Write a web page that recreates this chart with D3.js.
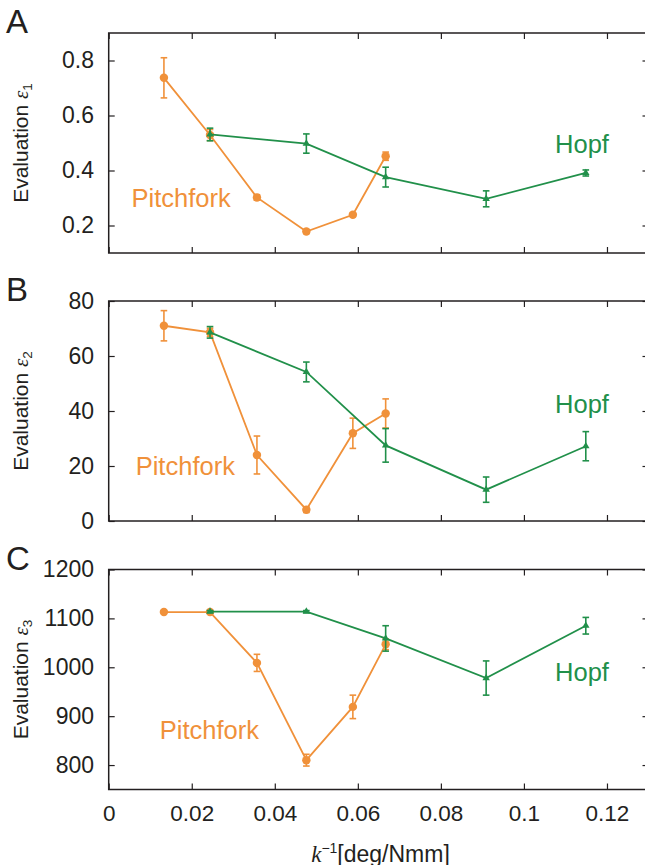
<!DOCTYPE html>
<html lang="en">
<head>
<meta charset="UTF-8">
<title>Evaluation vs k^-1</title>
<script src="https://cdn.jsdelivr.net/npm/d3@7/dist/d3.min.js"></script>
<style>
  body { margin: 0; background: #fff; font-family: "Liberation Sans", Arial, sans-serif; }
  svg { display: block; }
  .frame { fill: none; stroke: #231f20; stroke-width: 1.5; }
  .tick line { stroke: #231f20; stroke-width: 1.2; }
  .tick text { fill: #231f20; font-size: 22.5px; font-family: "Liberation Sans", Arial, sans-serif; }
  .yaxis .tick text { font-size: 23px; }
  .domain { display: none; }
  .letter { font-size: 33px; fill: #231f20; }
  .ytitle, .xtitle { fill: #231f20; }
</style>
</head>
<body>
<svg id="chart" width="645" height="865"></svg>
<script>
// k^-1 [deg/Nmm] for each stiffness
const pitchX = [0.0133, 0.0244, 0.0357, 0.0476, 0.0588, 0.0667];
const hopfX  = [0.0244, 0.0476, 0.0667, 0.0909, 0.1149];

// evaluation e1
const pitchE1    = [0.737, 0.529, 0.302, 0.178, 0.239, 0.452];
const pitchE1Err = [0.073, 0.020, 0.010, 0.007, 0.006, 0.015];
const hopfE1     = [0.531, 0.498, 0.376, 0.297, 0.391];
const hopfE1Err  = [0.023, 0.035, 0.036, 0.029, 0.011];

// evaluation e2
const pitchE2    = [71.0, 68.6, 24.0, 4.1, 31.9, 39.1];
const pitchE2Err = [5.5, 1.5, 6.9, 1.0, 5.5, 5.3];
const hopfE2     = [68.6, 54.2, 27.5, 11.4, 27.2];
const hopfE2Err  = [2.1, 3.6, 6.1, 4.6, 5.3];

// evaluation e3
const pitchE3    = [1113, 1113, 1009, 810, 919, 1047];
const pitchE3Err = [0, 0, 17.5, 12, 24, 11];
const hopfE3     = [1114, 1114, 1059, 978, 1085];
const hopfE3Err  = [2, 2, 26, 35, 17];

// axis ticks
const xTicks = [0, 0.02, 0.04, 0.06, 0.08, 0.1, 0.12];
const e1Ticks = [0.2, 0.4, 0.6, 0.8];
const e2Ticks = [0, 20, 40, 60, 80];
const e3Ticks = [800, 900, 1000, 1100, 1200];

const orange = "#f0913a", green = "#21904a";

const panels = [
  { letter: "A", sub: "1", domain: [0.1, 0.9], ticks: e1Ticks, fmt: d3.format(".1f"),
    pitch: pitchE1, pitchErr: pitchE1Err, hopf: hopfE1, hopfErr: hopfE1Err,
    pitchLabel: [0.0055, 0.268], hopfLabel: [0.1075, 0.465] },
  { letter: "B", sub: "2", domain: [0, 80], ticks: e2Ticks, fmt: d3.format("d"),
    pitch: pitchE2, pitchErr: pitchE2Err, hopf: hopfE2, hopfErr: hopfE2Err,
    pitchLabel: [0.0065, 16.7], hopfLabel: [0.1075, 39.4] },
  { letter: "C", sub: "3", domain: [750, 1200], ticks: e3Ticks, fmt: d3.format("d"),
    pitch: pitchE3, pitchErr: pitchE3Err, hopf: hopfE3, hopfErr: hopfE3Err,
    pitchLabel: [0.0123, 852.7], hopfLabel: [0.1075, 972.6] }
];

const left = 108.7, right = 648.5, panelH = 220;
const tops = [33, 301, 569.5];

const svg = d3.select("#chart");
const x = d3.scaleLinear().domain([0, 0.13]).range([left, right]);
const xFmt = d => d === 0 ? "0" : String(+d.toFixed(2));

function drawSeries(g, y, xs, ys, es, color, symbol, size) {
    const pts = xs.map((v, j) => ({ x: v, y: ys[j], e: es[j] }));

    g.append("path")
        .datum(pts)
        .attr("fill", "none")
        .attr("stroke", color)
        .attr("stroke-width", 1.8)
        .attr("d", d3.line().x(d => x(d.x)).y(d => y(d.y)));

    // error bars with small caps
    const eb = g.append("g")
        .attr("stroke", color)
        .attr("stroke-width", 1.6)
        .selectAll("g")
        .data(pts.filter(d => d.e > 0))
        .join("g");
    eb.append("line")
        .attr("x1", d => x(d.x)).attr("x2", d => x(d.x))
        .attr("y1", d => y(d.y - d.e)).attr("y2", d => y(d.y + d.e));
    eb.append("line")
        .attr("x1", d => x(d.x) - 3.3).attr("x2", d => x(d.x) + 3.3)
        .attr("y1", d => y(d.y + d.e)).attr("y2", d => y(d.y + d.e));
    eb.append("line")
        .attr("x1", d => x(d.x) - 3.3).attr("x2", d => x(d.x) + 3.3)
        .attr("y1", d => y(d.y - d.e)).attr("y2", d => y(d.y - d.e));

    g.append("g")
        .selectAll("path")
        .data(pts)
        .join("path")
        .attr("d", d3.symbol(symbol, size))
        .attr("transform", d => `translate(${x(d.x)},${y(d.y)})`)
        .attr("fill", color);
}

panels.forEach((p, i) => {
    const top = tops[i], bottom = top + panelH;
    const y = d3.scaleLinear().domain(p.domain).range([bottom, top]);
    const g = svg.append("g");

    // inward ticks on all four sides
    g.append("g")
        .attr("class", "yaxis")
        .attr("transform", `translate(${left},0)`)
        .call(d3.axisLeft(y).tickValues(p.ticks).tickFormat(p.fmt)
            .tickSizeInner(-6).tickSizeOuter(0).tickPadding(14.7));
    g.append("g")
        .attr("transform", `translate(${right},0)`)
        .call(d3.axisRight(y).tickValues(p.ticks).tickFormat(() => "")
            .tickSizeInner(-6).tickSizeOuter(0));
    g.append("g")
        .attr("transform", `translate(0,${top})`)
        .call(d3.axisTop(x).tickValues(xTicks).tickFormat(() => "")
            .tickSizeInner(-6).tickSizeOuter(0));
    g.append("g")
        .attr("transform", `translate(0,${bottom})`)
        .call(d3.axisBottom(x).tickValues(xTicks).tickFormat(i === 2 ? xFmt : () => "")
            .tickSizeInner(-6).tickSizeOuter(0).tickPadding(15.5));

    g.append("rect")
        .attr("class", "frame")
        .attr("x", left).attr("y", top)
        .attr("width", right - left).attr("height", panelH);

    drawSeries(g, y, pitchX, p.pitch, p.pitchErr, orange, d3.symbolCircle, 56);
    drawSeries(g, y, hopfX, p.hopf, p.hopfErr, green, d3.symbolTriangle, 24);

    // series names
    g.append("text")
        .attr("x", x(p.pitchLabel[0])).attr("y", y(p.pitchLabel[1]))
        .attr("fill", orange).style("font-size", "25.5px")
        .text("Pitchfork");
    g.append("text")
        .attr("x", x(p.hopfLabel[0])).attr("y", y(p.hopfLabel[1]))
        .attr("fill", green).style("font-size", "25.5px")
        .text("Hopf");

    // panel letter
    g.append("text")
        .attr("class", "letter")
        .attr("x", 6).attr("y", top)
        .text(p.letter);

    // y title: Evaluation eps_i
    const t = g.append("text")
        .attr("class", "ytitle")
        .attr("transform", `translate(28.3,${(top + bottom) / 2}) rotate(-90)`)
        .attr("text-anchor", "middle")
        .style("font-size", "21px");
    t.append("tspan").text("Evaluation ");
    t.append("tspan")
        .style("font-family", "'Liberation Serif', serif")
        .style("font-style", "italic")
        .text("\u03b5");
    t.append("tspan")
        .attr("dy", 4)
        .style("font-size", "13.5px")
        .text(p.sub);
});

// x title
const xt = svg.append("text")
    .attr("class", "xtitle")
    .attr("x", 380.5).attr("y", 861.5)
    .attr("text-anchor", "middle")
    .style("font-size", "23px");
xt.append("tspan")
    .style("font-family", "'Liberation Serif', serif")
    .style("font-style", "italic")
    .text("k");
xt.append("tspan")
    .attr("dy", -9)
    .style("font-size", "14px")
    .text("\u22121");
xt.append("tspan")
    .attr("dy", 9)
    .text("[deg/Nmm]");
</script>
</body>
</html>
